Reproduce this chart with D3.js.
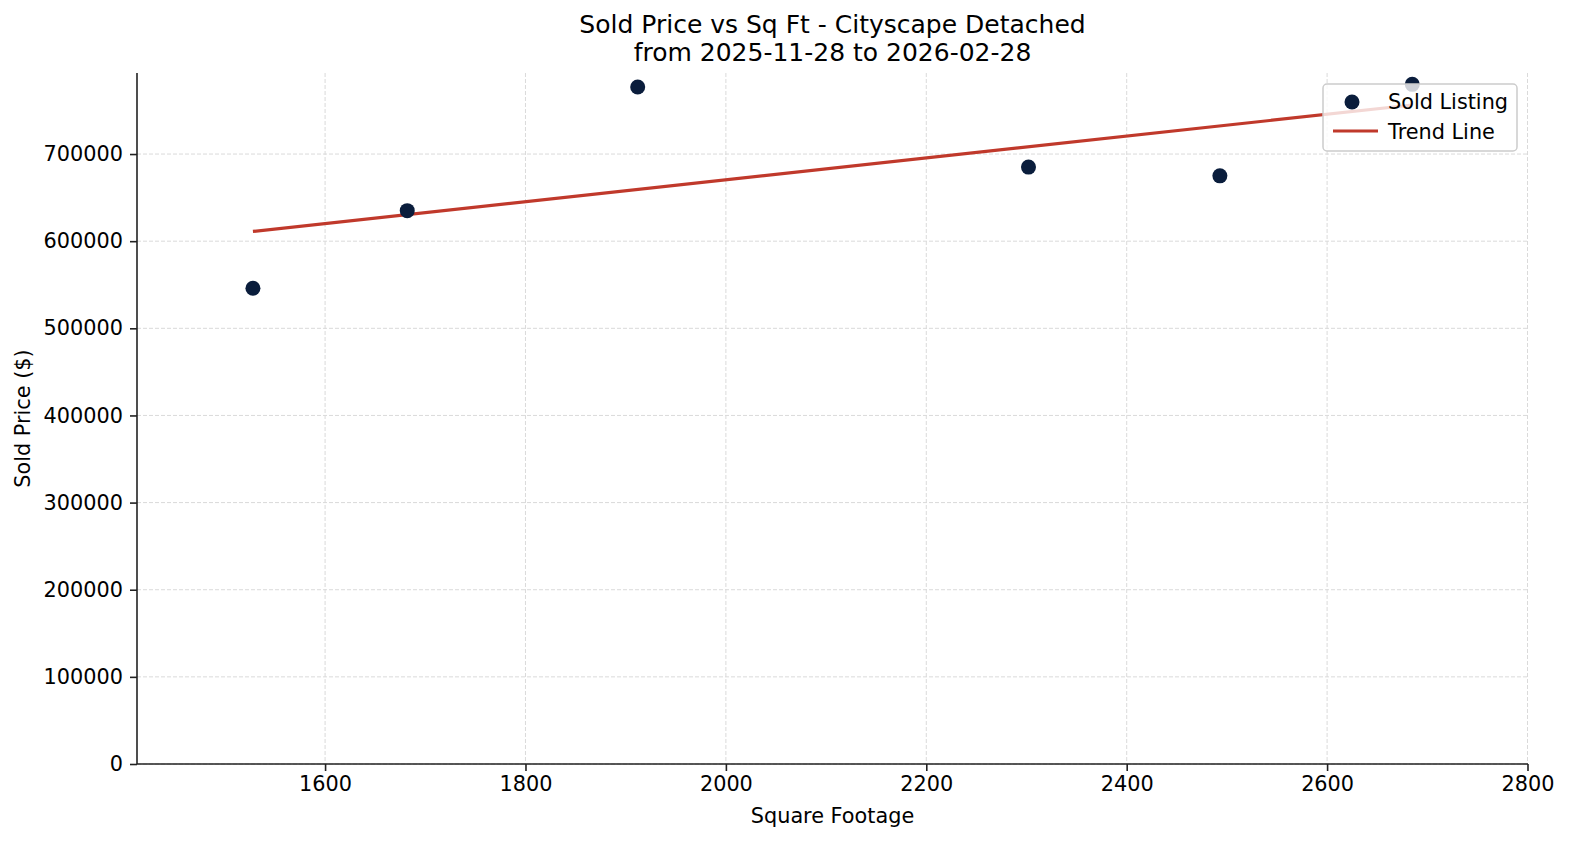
<!DOCTYPE html>
<html>
<head>
<meta charset="utf-8">
<script src="https://cdn.jsdelivr.net/npm/d3@7"></script>
<style>
  body { margin: 0; background: #fff; }
  svg { display: block; font-family: "DejaVu Sans", sans-serif; }
</style>
</head>
<body>
<svg id="chart" width="1573" height="845"></svg>
<script>
// sold listings
var sqft = [1528, 1682, 1912, 2302, 2493, 2685];
var soldPrice = [546000, 635000, 777000, 685000, 675000, 780000];
var xTicks = [1600, 1800, 2000, 2200, 2400, 2600, 2800];
var yTicks = [0, 100000, 200000, 300000, 400000, 500000, 600000, 700000];
var titleLines = ['Sold Price vs Sq Ft - Cityscape Detached', 'from 2025-11-28 to 2026-02-28'];

var svg = d3.select('#chart');
var plotL = 137, plotR = 1528, plotT = 73, plotB = 764;

var x = d3.scaleLinear().domain([1412.3, 2800.5]).range([plotL, plotR]);
var y = d3.scaleLinear().domain([0, 793000]).range([plotB, plotT]);

// least squares fit for the trend line
var mx = d3.mean(sqft), my = d3.mean(soldPrice);
var sxy = d3.sum(sqft, function(v, i) { return (v - mx) * (soldPrice[i] - my); });
var sxx = d3.sum(sqft, function(v) { return (v - mx) * (v - mx); });
var slope = sxy / sxx, icpt = my - slope * mx;
var trend = [d3.min(sqft), d3.max(sqft)].map(function(v) { return [v, icpt + slope * v]; });

// grid
var grid = svg.append('g').attr('stroke', '#dadada').attr('stroke-width', 1)
  .attr('stroke-dasharray', '4,2');
xTicks.forEach(function(t) {
  grid.append('line').attr('x1', x(t)).attr('x2', x(t)).attr('y1', plotT).attr('y2', plotB);
});
yTicks.forEach(function(t) {
  grid.append('line').attr('x1', plotL).attr('x2', plotR).attr('y1', y(t)).attr('y2', y(t));
});

// axes
var xAxis = svg.append('g').attr('transform', 'translate(0,' + plotB + ')')
  .call(d3.axisBottom(x).tickValues(xTicks).tickSize(7).tickPadding(5).tickFormat(d3.format('d')));
var yAxis = svg.append('g').attr('transform', 'translate(' + plotL + ',0)')
  .call(d3.axisLeft(y).tickValues(yTicks).tickSize(7).tickPadding(7).tickFormat(d3.format('d')));
[xAxis, yAxis].forEach(function(a) {
  a.attr('font-size', null).attr('font-family', null);
  a.selectAll('text').attr('font-size', 20.8).attr('fill', '#000');
  a.selectAll('line').attr('stroke', '#222').attr('stroke-width', 1.6);
  a.select('.domain').attr('stroke', '#222').attr('stroke-width', 1.6);
});
xAxis.select('.domain').attr('d', 'M' + plotL + ',0H' + plotR);
yAxis.select('.domain').attr('d', 'M0,' + plotB + 'V' + plotT);

// trend line
svg.append('path')
  .datum(trend)
  .attr('d', d3.line().x(function(d) { return x(d[0]); }).y(function(d) { return y(d[1]); }))
  .attr('fill', 'none').attr('stroke', '#c0392b').attr('stroke-width', 3.2);

// points
svg.append('g').selectAll('circle')
  .data(sqft)
  .join('circle')
  .attr('cx', function(d) { return x(d); })
  .attr('cy', function(d, i) { return y(soldPrice[i]); })
  .attr('r', 7.5)
  .attr('fill', '#0a1d3c');

// labels
svg.append('text').attr('x', (plotL + plotR) / 2).attr('y', 823).attr('text-anchor', 'middle')
  .attr('font-size', 20.8).text('Square Footage');
svg.append('text').attr('transform', 'translate(30,' + ((plotT + plotB) / 2) + ') rotate(-90)')
  .attr('text-anchor', 'middle').attr('font-size', 20.8).text('Sold Price ($)');
titleLines.forEach(function(t, i) {
  svg.append('text').attr('x', (plotL + plotR) / 2).attr('y', 33 + i * 28).attr('text-anchor', 'middle')
    .attr('font-size', 25).text(t);
});

// legend
var lg = svg.append('g').attr('transform', 'translate(1323,84)');
lg.append('rect').attr('width', 194).attr('height', 67).attr('rx', 4)
  .attr('fill', 'rgba(255,255,255,0.8)').attr('stroke', '#cccccc').attr('stroke-width', 1.5);
lg.append('circle').attr('cx', 29).attr('cy', 18).attr('r', 7.5).attr('fill', '#0a1d3c');
lg.append('line').attr('x1', 10).attr('x2', 55).attr('y1', 47).attr('y2', 47)
  .attr('stroke', '#c0392b').attr('stroke-width', 3.2);
lg.append('text').attr('x', 65).attr('y', 25).attr('font-size', 20.8).text('Sold Listing');
lg.append('text').attr('x', 65).attr('y', 55).attr('font-size', 20.8).text('Trend Line');
</script>
</body>
</html>
